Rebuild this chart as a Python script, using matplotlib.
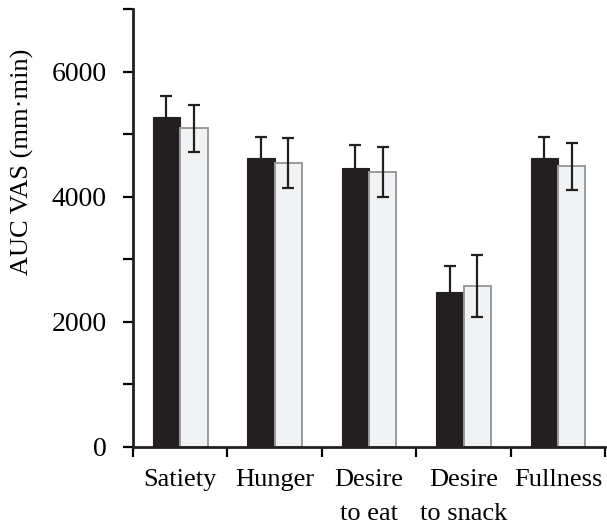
import numpy as np
import matplotlib
matplotlib.use("Agg")
import matplotlib.pyplot as plt
from matplotlib.ticker import MultipleLocator

# data
categories = ['Satiety', 'Hunger', 'Desire\nto eat', 'Desire\nto snack', 'Fullness']
dark_vals = [5270, 4615, 4465, 2470, 4615]
dark_err = [335, 335, 360, 425, 335]
light_vals = [5090, 4535, 4395, 2575, 4485]
light_err = [380, 400, 405, 500, 375]

plt.rcParams['font.family'] = ['Liberation Serif', 'DejaVu Serif']
plt.rcParams['font.size'] = 19

fig = plt.figure(figsize=(6.07, 5.27), dpi=100)
ax = fig.add_axes([0.219, 0.152, 0.778, 0.831])

x = np.arange(len(categories)) + 0.5
w = 0.29

ax.bar(x - w / 2, dark_vals, w, color='#231f20', edgecolor='#231f20', linewidth=0.8,
       yerr=dark_err, error_kw=dict(ecolor='#231f20', elinewidth=1.6, capsize=4.5, capthick=1.6),
       zorder=2)
ax.bar(x + w / 2, light_vals, w, color='#f1f2f4', edgecolor='#9a9a9a', linewidth=1.4,
       yerr=light_err, error_kw=dict(ecolor='#231f20', elinewidth=1.6, capsize=4.5, capthick=1.6),
       zorder=2)

ax.set_xlim(0, 5)
ax.set_ylim(0, 7000)
ax.set_xticks(np.arange(0, 6))
ax.set_xticklabels([])
ax.set_xticks(x, minor=True)
ax.set_xticklabels(categories, minor=True, linespacing=1.7)
ax.tick_params(axis='x', which='minor', length=0, pad=16)
ax.tick_params(axis='x', which='major', direction='out', length=7, width=1.6)

ax.yaxis.set_major_locator(MultipleLocator(2000))
ax.yaxis.set_minor_locator(MultipleLocator(1000))
ax.tick_params(axis='y', which='both', direction='out', length=7, width=1.6, pad=12)
ax.tick_params(axis='y', which='major', labelsize=20)

ax.set_ylabel('AUC VAS (mm·min)')
ax.yaxis.set_label_coords(-0.21, 0.65)

for s in ['top', 'right']:
    ax.spines[s].set_visible(False)
for s in ['left', 'bottom']:
    ax.spines[s].set_linewidth(2)
    ax.spines[s].set_color('#231f20')

fig.savefig('out.png', dpi=100)
